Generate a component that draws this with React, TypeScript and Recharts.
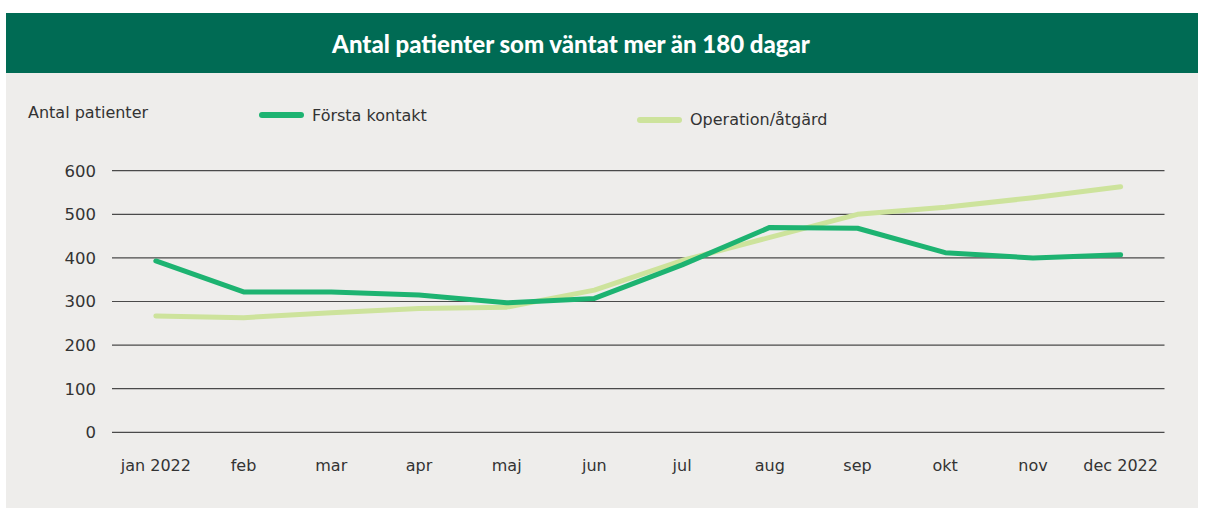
import React from 'react';
import { LineChart, Line, XAxis, YAxis, CartesianGrid } from 'recharts';

const months = ['jan 2022', 'feb', 'mar', 'apr', 'maj', 'jun', 'jul', 'aug', 'sep', 'okt', 'nov', 'dec 2022'];
const forstaKontakt = [393, 322, 322, 315, 297, 307, 384, 470, 468, 412, 400, 407];
const operationAtgard = [267, 263, 274, 284, 287, 326, 394, 447, 500, 516, 538, 563];
const yTicks = [0, 100, 200, 300, 400, 500, 600];

const title = 'Antal patienter som väntat mer än 180 dagar';
const yLabel = 'Antal patienter';
const seriesNames = ['Första kontakt', 'Operation/åtgärd'];

const GREEN = '#1db371';
const LIGHT = '#cde39c';
const TEXT = '#333333';
const FONT = '"DejaVu Sans", sans-serif';

const data = months.map((m, i) => ({ month: m, forsta: forstaKontakt[i], operation: operationAtgard[i] }));

const LegendOverlay = () => (
  <>
    <div style={{ position: 'absolute', left: 259, top: 112, width: 45, height: 6, borderRadius: 3, background: GREEN }} />
    <div style={{ position: 'absolute', left: 312, top: 106, fontFamily: FONT, fontSize: 16, color: TEXT, lineHeight: '20px', whiteSpace: 'nowrap' }}>{seriesNames[0]}</div>
    <div style={{ position: 'absolute', left: 637, top: 117, width: 45, height: 6, borderRadius: 3, background: LIGHT }} />
    <div style={{ position: 'absolute', left: 690, top: 110, fontFamily: FONT, fontSize: 16, color: TEXT, lineHeight: '20px', whiteSpace: 'nowrap' }}>{seriesNames[1]}</div>
  </>
);

export default function App() {
  return (
    <div style={{ position: 'absolute', left: 0, top: 0, width: 1205, height: 508, background: '#ffffff', overflow: 'hidden' }}>
      <div style={{ position: 'absolute', left: 6, top: 13, width: 1192, height: 60, background: '#006b54' }} />
      <div style={{ position: 'absolute', left: 6, top: 73, width: 1192, height: 435, background: '#eeedeb' }} />
      <div style={{ position: 'absolute', left: 6, top: 13, width: 1130, height: 60, display: 'flex', alignItems: 'center', justifyContent: 'center', color: '#ffffff', fontFamily: 'Lato, sans-serif', fontWeight: 900, fontSize: 24, whiteSpace: 'nowrap' }}>{title}</div>
      <div style={{ position: 'absolute', left: 28, top: 103, fontFamily: FONT, fontSize: 16, color: TEXT, lineHeight: '20px', whiteSpace: 'nowrap' }}>{yLabel}</div>
      <LegendOverlay />
      <div style={{ position: 'absolute', left: 0, top: 0 }}>
        <LineChart width={1205} height={508} data={data} margin={{ top: 170.7, right: 40.5, bottom: 45.7, left: 52 }}>
          <CartesianGrid horizontal={true} vertical={false} stroke="#4a4a4a" strokeWidth={1.2} />
          <XAxis dataKey="month" height={30} scale="band" axisLine={false} tickLine={false} tickSize={6} tickMargin={21} interval={0}
            tick={{ fill: TEXT, fontSize: 16, fontFamily: FONT }} />
          <YAxis width={60} domain={[0, 600]} ticks={yTicks} axisLine={false} tickLine={false} tickSize={6} tickMargin={10}
            tick={{ fill: TEXT, fontSize: 16.5, fontFamily: FONT }} />
          <Line type="linear" dataKey="operation" name={seriesNames[1]} stroke={LIGHT} strokeWidth={5} dot={false} activeDot={false}
            strokeLinecap="round" strokeLinejoin="round" isAnimationActive={false} />
          <Line type="linear" dataKey="forsta" name={seriesNames[0]} stroke={GREEN} strokeWidth={5} dot={false} activeDot={false}
            strokeLinecap="round" strokeLinejoin="round" isAnimationActive={false} />
        </LineChart>
      </div>
    </div>
  );
}
